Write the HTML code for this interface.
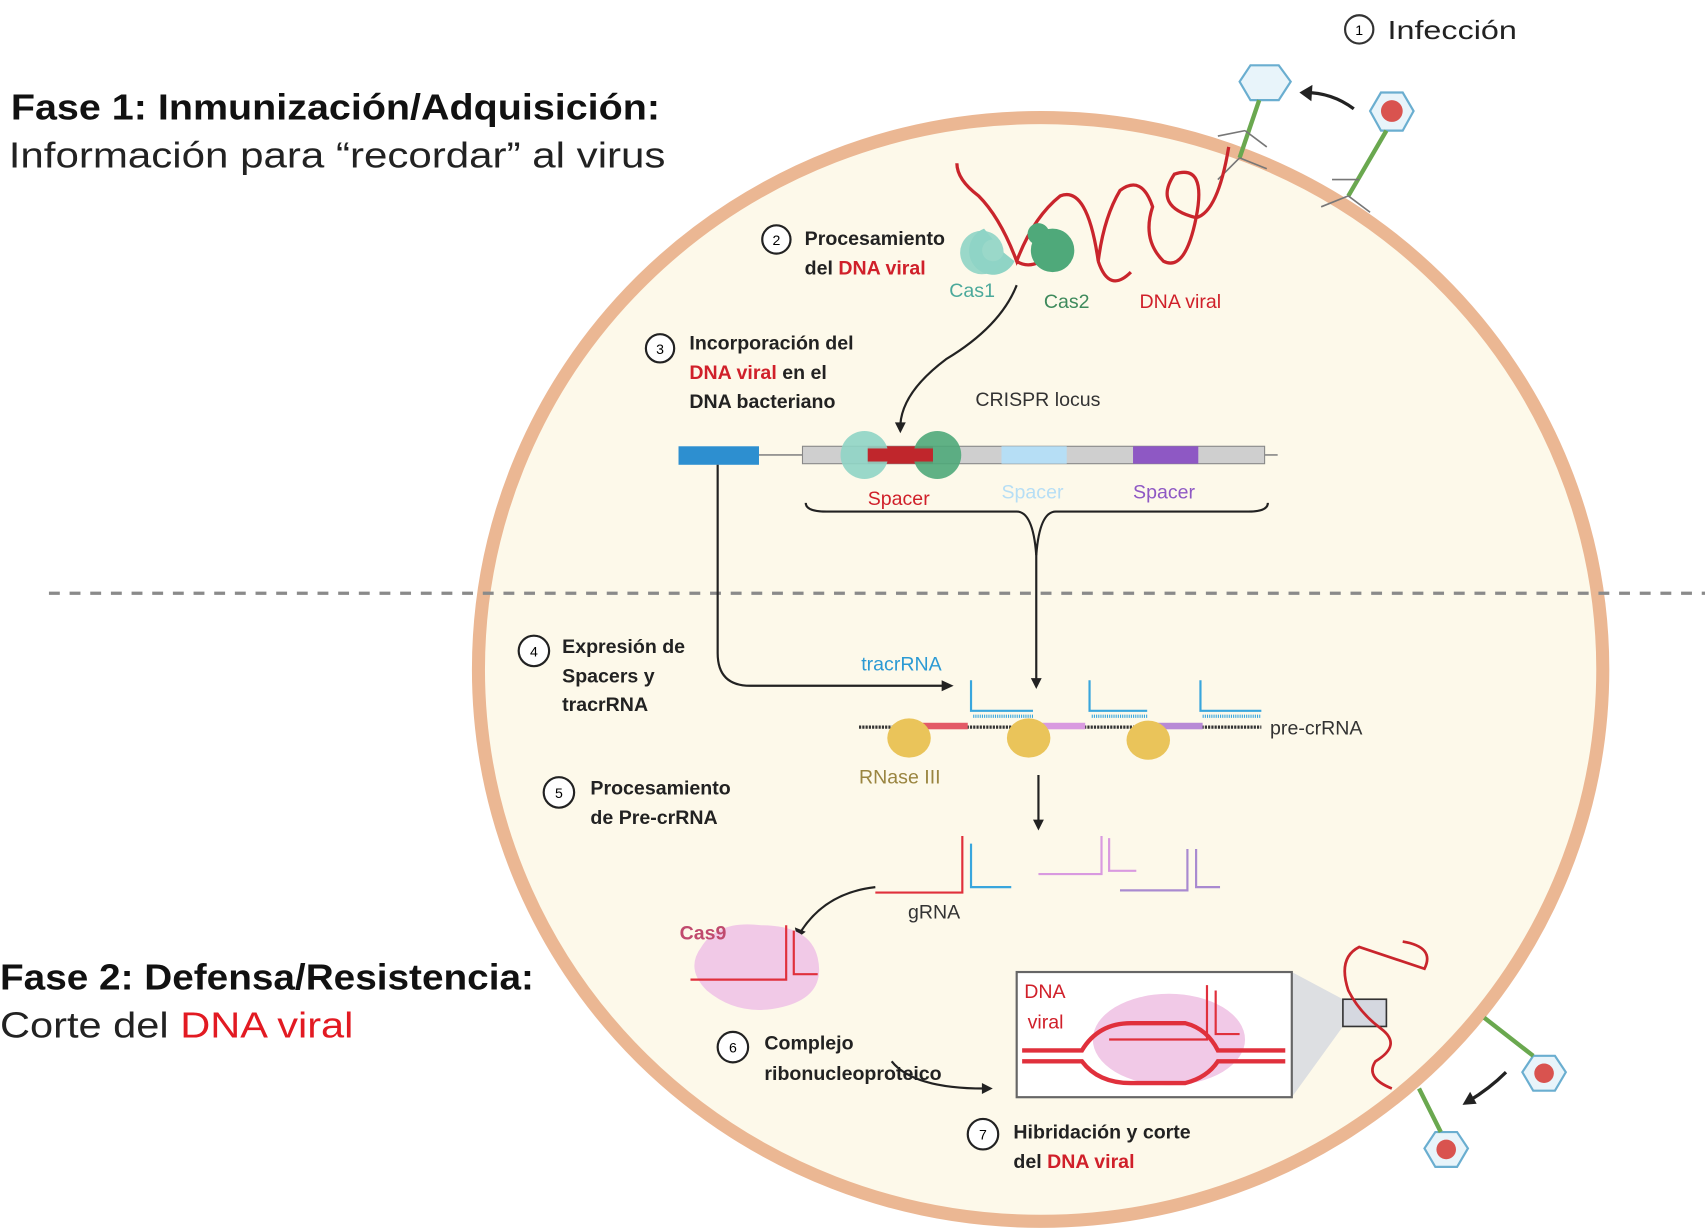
<!DOCTYPE html>
<html><head><meta charset="utf-8"><style>
html,body{margin:0;padding:0;background:#fff;}
svg{display:block;}
.b{font-family:"Liberation Sans",sans-serif;font-weight:bold;font-size:18px;fill:#222;}
.r{font-family:"Liberation Sans",sans-serif;font-size:18px;}
</style></head><body>
<svg width="1705" height="1230" viewBox="0 0 1568 1130" preserveAspectRatio="none" xmlns="http://www.w3.org/2000/svg">
<rect width="1568" height="1130" fill="#fff"/>
<ellipse cx="957" cy="615" rx="517" ry="507" fill="#fdf9ea" stroke="#ebb793" stroke-width="12"/>
<line x1="45" y1="545" x2="1568" y2="545" stroke="#8a8a8a" stroke-width="3" stroke-dasharray="10 9"/>
<text x="10" y="110" textLength="597" lengthAdjust="spacingAndGlyphs" style="font-family:'Liberation Sans',sans-serif;font-weight:bold;font-size:33px" fill="#111">Fase 1: Inmunización/Adquisición:</text>
<text x="8" y="154" textLength="604" lengthAdjust="spacingAndGlyphs" style="font-family:'Liberation Sans',sans-serif;font-size:33px" fill="#222">Información para “recordar” al virus</text>
<text x="0" y="909" textLength="491" lengthAdjust="spacingAndGlyphs" style="font-family:'Liberation Sans',sans-serif;font-weight:bold;font-size:33px" fill="#111">Fase 2: Defensa/Resistencia:</text>
<text x="0" y="953" textLength="325" lengthAdjust="spacingAndGlyphs" style="font-family:'Liberation Sans',sans-serif;font-size:33px" fill="#222">Corte del <tspan fill="#e21a22">DNA viral</tspan></text>
<circle cx="1250" cy="27" r="13" fill="none" stroke="#333" stroke-width="2"/>
<text x="1250" y="32" font-size="13" text-anchor="middle" font-family="Liberation Sans">1</text>
<text x="1276" y="36" textLength="119" lengthAdjust="spacingAndGlyphs" style="font-family:'Liberation Sans',sans-serif;font-size:24px" fill="#222">Infección</text>
<polygon points="1150,60 1176,60 1187,75 1176,92 1150,92 1140,75" fill="#e8f4fa" stroke="#6aaed0" stroke-width="2"/>
<line x1="1158" y1="92" x2="1140" y2="145" stroke="#6aa84f" stroke-width="4"/>
<path d="M1140 145 l-20 20 M1140 145 l25 10 M1145 120 l-25 5 M1145 120 l20 15" stroke="#777" stroke-width="1.5" fill="none"/>
<polygon points="1270,85 1290,85 1300,102 1290,120 1270,120 1260,102" fill="#e8f4fa" stroke="#6aaed0" stroke-width="2"/>
<circle cx="1280" cy="102" r="10" fill="#d9534f"/>
<line x1="1275" y1="120" x2="1240" y2="180" stroke="#6aa84f" stroke-width="4"/>
<path d="M1240 180 l-25 10 M1240 180 l20 15 M1250 165 l-25 0" stroke="#777" stroke-width="1.5" fill="none"/>
<path d="M1245 100 Q1225 85 1200 85" stroke="#222" stroke-width="3" fill="none"/>
<polygon points="1195,85 1207,78 1206,93" fill="#222"/>
<path d="M1130 135 Q1120 195 1100 200 Q1060 190 1080 160 Q1110 150 1100 200 Q1090 250 1070 240 Q1050 220 1060 190 Q1050 160 1030 175 Q1015 200 1010 240 Q1000 170 975 180 Q950 200 935 240 Q920 200 900 180 Q880 165 880 150 M935 240 Q950 250 970 230" stroke="#c9252c" stroke-width="3" fill="none"/>
<path d="M1010 240 Q1020 270 1040 250" stroke="#c9252c" stroke-width="3" fill="none"/>
<path d="M905 210 a22 22 0 1 0 28 30 l-10 -8 a10 10 0 1 1 -10 -12 z" fill="#8fd4c5"/>
<circle cx="903" cy="232" r="20" fill="#8fd4c5" opacity="0.9"/>
<circle cx="968" cy="230" r="20" fill="#4fa97a"/>
<circle cx="955" cy="215" r="10" fill="#4fa97a"/>
<text class="r" x="873" y="273" fill="#4ba99b">Cas1</text>
<text class="r" x="960" y="283" fill="#3e8a5c">Cas2</text>
<text class="r" x="1048" y="283" fill="#d0202a">DNA viral</text>
<circle cx="714" cy="220" r="13" fill="#fff" stroke="#222" stroke-width="2"/>
<text x="714" y="225" font-size="13" text-anchor="middle" font-family="Liberation Sans">2</text>
<text class="b" x="740" y="225">Procesamiento</text>
<text class="b" x="740" y="252">del <tspan fill="#d0202a">DNA viral</tspan></text>
<path d="M935 262 Q920 300 870 330 Q830 360 828 390" stroke="#222" stroke-width="2" fill="none"/>
<polygon points="823,388 833,388 828,398" fill="#222"/>
<circle cx="607" cy="320" r="13" fill="#fff" stroke="#222" stroke-width="2"/>
<text x="607" y="325" font-size="13" text-anchor="middle" font-family="Liberation Sans">3</text>
<text class="b" x="634" y="321">Incorporación del</text>
<text class="b" x="634" y="348"><tspan fill="#d0202a">DNA viral</tspan> en el</text>
<text class="b" x="634" y="375">DNA bacteriano</text>
<text class="r" x="897" y="373" fill="#333">CRISPR locus</text>
<rect x="624" y="410" width="74" height="17" fill="#2d8fd0"/>
<line x1="698" y1="418" x2="1175" y2="418" stroke="#888" stroke-width="1.5"/>
<rect x="738" y="410" width="425" height="16" fill="#cfcfcf" stroke="#888" stroke-width="1"/>
<rect x="798" y="410" width="60" height="16" fill="#c0262c"/>
<rect x="921" y="410" width="60" height="16" fill="#b6def5"/>
<rect x="1042" y="410" width="60" height="16" fill="#8e58c4"/>
<circle cx="795" cy="418" r="22" fill="#8fd4c5" opacity="0.9"/>
<circle cx="862" cy="418" r="22" fill="#4fa97a" opacity="0.9"/>
<rect x="798" y="412" width="60" height="12" fill="#c0262c"/>
<text class="r" x="798" y="464" fill="#d0202a">Spacer</text>
<text class="r" x="921" y="458" fill="#b6def5">Spacer</text>
<text class="r" x="1042" y="458" fill="#8e58c4">Spacer</text>
<path d="M741 462 Q741 470 760 470 L935 470 Q950 470 953 510 Q956 470 971 470 L1148 470 Q1166 470 1166 462" stroke="#222" stroke-width="2" fill="none"/>
<line x1="953" y1="505" x2="953" y2="625" stroke="#222" stroke-width="2"/>
<polygon points="948,623 958,623 953,633" fill="#222"/>
<path d="M660 427 L660 600 Q660 630 690 630 L868 630" stroke="#222" stroke-width="2" fill="none"/>
<polygon points="866,625 866,635 877,630" fill="#222"/>
<circle cx="491" cy="598" r="14" fill="#fff" stroke="#222" stroke-width="2"/>
<text x="491" y="603" font-size="13" text-anchor="middle" font-family="Liberation Sans">4</text>
<text class="b" x="517" y="600">Expresión de</text>
<text class="b" x="517" y="627">Spacers y</text>
<text class="b" x="517" y="653">tracrRNA</text>
<text class="r" x="792" y="616" fill="#2b9ad4">tracrRNA</text>
<line x1="790" y1="668" x2="1160" y2="668" stroke="#333" stroke-width="3" stroke-dasharray="2 1"/>
<rect x="838" y="664" width="52" height="6" fill="#e35a67"/>
<rect x="948" y="664" width="50" height="6" fill="#d99ae0"/>
<rect x="1058" y="664" width="48" height="6" fill="#b88ad6"/>
<path d="M893 625 L893 653 L950 653 M1002 625 L1002 653 L1055 653 M1104 625 L1104 653 L1160 653" stroke="#39a6dd" stroke-width="2" fill="none"/>
<path d="M895 658 L950 658 M1004 658 L1055 658 M1106 658 L1160 658" stroke="#39a6dd" stroke-width="3" stroke-dasharray="1 1"/>
<ellipse cx="836" cy="678" rx="20" ry="18" fill="#eac45a"/>
<ellipse cx="946" cy="678" rx="20" ry="18" fill="#eac45a"/>
<ellipse cx="1056" cy="680" rx="20" ry="18" fill="#eac45a"/>
<text class="r" x="1168" y="675" fill="#333">pre-crRNA</text>
<text class="r" x="790" y="720" fill="#9a8540">RNase III</text>
<circle cx="514" cy="728" r="14" fill="#fff" stroke="#222" stroke-width="2"/>
<text x="514" y="733" font-size="13" text-anchor="middle" font-family="Liberation Sans">5</text>
<text class="b" x="543" y="730">Procesamiento</text>
<text class="b" x="543" y="757">de Pre-crRNA</text>
<line x1="955" y1="712" x2="955" y2="755" stroke="#222" stroke-width="2"/>
<polygon points="950,753 960,753 955,763" fill="#222"/>
<path d="M805 820 L885 820 L885 768" stroke="#e0303c" stroke-width="2" fill="none"/>
<path d="M893 775 L893 815 L930 815" stroke="#39a6dd" stroke-width="2" fill="none"/>
<path d="M955 803 L1013 803 L1013 768 M1020 770 L1020 800 L1045 800" stroke="#d99ae0" stroke-width="2" fill="none"/>
<path d="M1030 818 L1092 818 L1092 780 M1100 780 L1100 815 L1122 815" stroke="#a98ad0" stroke-width="2" fill="none"/>
<text class="r" x="835" y="844" fill="#333">gRNA</text>
<path d="M805 815 Q760 820 737 855" stroke="#222" stroke-width="2" fill="none"/>
<polygon points="731,852 741,856 733,862" fill="#222"/>
<path d="M645 870 Q660 845 700 850 Q745 850 752 880 Q760 915 720 925 Q680 935 650 910 Q630 890 645 870 z" fill="#f1c9e7"/>
<path d="M635 900 L723 900 L723 850 M730 855 L730 895 L752 895" stroke="#e0303c" stroke-width="2" fill="none"/>
<text class="r" x="625" y="863" fill="#c04a6e" font-weight="bold">Cas9</text>
<circle cx="674" cy="962" r="14" fill="#fff" stroke="#222" stroke-width="2"/>
<text x="674" y="967" font-size="13" text-anchor="middle" font-family="Liberation Sans">6</text>
<text class="b" x="703" y="964">Complejo</text>
<text class="b" x="703" y="992">ribonucleoproteico</text>
<path d="M820 975 Q840 1000 905 1000" stroke="#222" stroke-width="2" fill="none"/>
<polygon points="903,995 903,1005 913,1000" fill="#222"/>
<polygon points="1188,893 1235,918 1235,943 1188,1008" fill="#d5d8e0" opacity="0.8"/>
<rect x="935" y="893" width="253" height="115" fill="#fff" stroke="#666" stroke-width="2"/>
<rect x="1235" y="918" width="40" height="25" fill="#d5d8e0" stroke="#333" stroke-width="1.5"/>
<ellipse cx="1075" cy="955" rx="70" ry="42" fill="#f1c9e7"/>
<path d="M940 965 L995 965 Q1010 940 1040 940 L1090 940 Q1110 945 1120 965 L1182 965 M940 975 L995 975 Q1010 995 1040 995 L1090 995 Q1110 990 1120 975 L1182 975" stroke="#e0303c" stroke-width="4" fill="none"/>
<path d="M1020 955 L1110 955 L1110 905 M1118 910 L1118 950 L1140 950" stroke="#e0303c" stroke-width="2" fill="none"/>
<text class="r" x="942" y="917" fill="#d0202a">DNA</text>
<text class="r" x="945" y="945" fill="#d0202a">viral</text>
<path d="M1290 865 Q1320 870 1310 890 Q1280 880 1250 870 Q1230 880 1240 910 Q1250 930 1270 945 Q1290 960 1265 975 Q1255 990 1280 1000" stroke="#c9252c" stroke-width="2.5" fill="none"/>
<circle cx="904" cy="1042" r="14" fill="#fff" stroke="#222" stroke-width="2"/>
<text x="904" y="1047" font-size="13" text-anchor="middle" font-family="Liberation Sans">7</text>
<text class="b" x="932" y="1046">Hibridación y corte</text>
<text class="b" x="932" y="1073">del <tspan fill="#d0202a">DNA viral</tspan></text>
<polygon points="1410,970 1430,970 1440,985 1430,1002 1410,1002 1400,985" fill="#e8f4fa" stroke="#6aaed0" stroke-width="2"/>
<circle cx="1420" cy="986" r="9" fill="#d9534f"/>
<line x1="1410" y1="970" x2="1365" y2="935" stroke="#6aa84f" stroke-width="4"/>
<polygon points="1320,1040 1340,1040 1350,1055 1340,1072 1320,1072 1310,1055" fill="#e8f4fa" stroke="#6aaed0" stroke-width="2"/>
<circle cx="1330" cy="1056" r="9" fill="#d9534f"/>
<line x1="1325" y1="1040" x2="1305" y2="1000" stroke="#6aa84f" stroke-width="4"/>
<path d="M1385 985 Q1370 1000 1350 1012" stroke="#222" stroke-width="3" fill="none"/>
<polygon points="1345,1015 1352,1003 1358,1014" fill="#222"/>
</svg>
</body></html>
